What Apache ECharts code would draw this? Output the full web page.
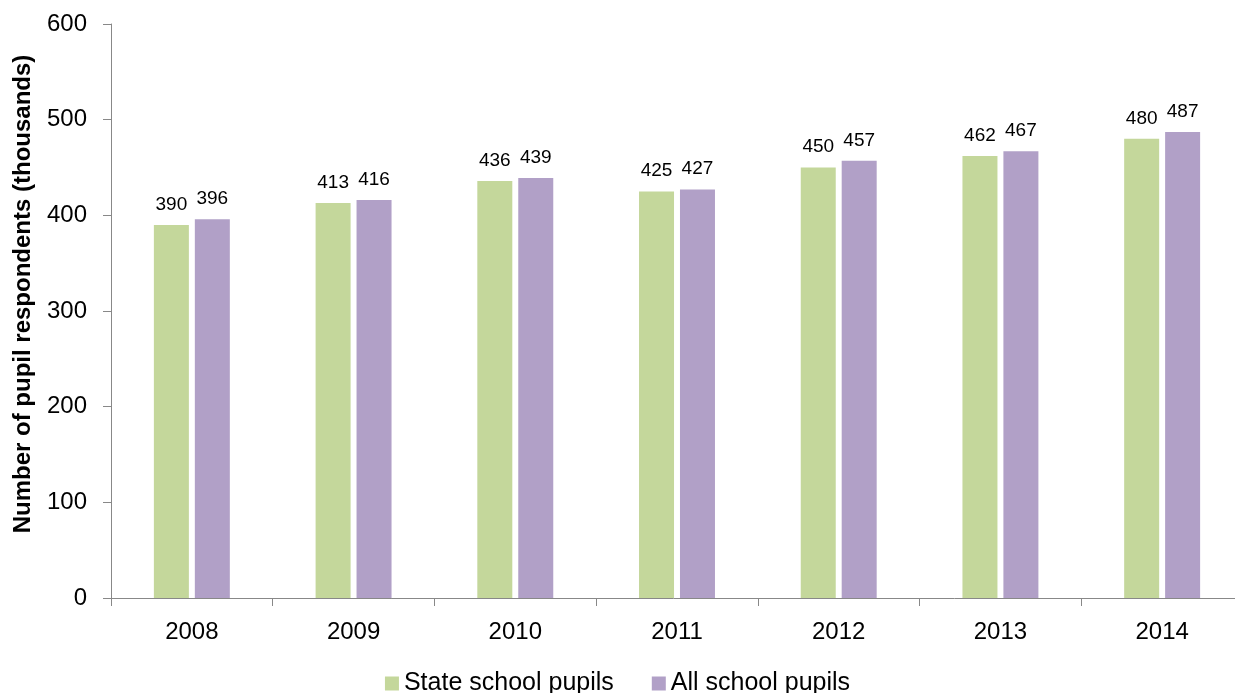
<!DOCTYPE html>
<html><head><meta charset="utf-8">
<script src="https://cdn.jsdelivr.net/npm/echarts@6/dist/echarts.min.js"></script>
<style>html,body{margin:0;padding:0;background:#fff}#c{width:1235px;height:693px}</style>
</head><body><div id="c"></div>
<script>
const categories = ['2008','2009','2010','2011','2012','2013','2014'];
const stateSchool = [390,413,436,425,450,462,480];
const allSchool = [396,416,439,427,457,467,487];
const yTicks = [0,100,200,300,400,500,600];

const chart = echarts.init(document.getElementById('c'));
const font = 'Liberation Sans, Arial, Helvetica, sans-serif';
chart.setOption({
  animation:false,
  textStyle:{fontFamily:font},
  grid:{left:111,width:1132,top:24,height:574,containLabel:false,outerBoundsMode:'none'},
  legend:{
    top:666,left:'center',itemWidth:14,itemHeight:14,itemGap:38,
    icon:'rect',
    textStyle:{fontSize:25,color:'#000',fontFamily:font},
    data:['State school pupils','All school pupils']
  },
  xAxis:{
    type:'category',data:categories,
    axisLine:{lineStyle:{color:'#888'}},
    axisTick:{show:true,length:8,lineStyle:{color:'#888'},alignWithLabel:false},
    axisLabel:{fontSize:24,color:'#000',margin:22,fontFamily:font}
  },
  yAxis:{
    type:'value',min:yTicks[0],max:yTicks[yTicks.length-1],interval:100,
    name:'Number of pupil respondents (thousands)',
    nameLocation:'middle',nameGap:76,
    nameTextStyle:{fontSize:24,fontWeight:'bold',color:'#000',fontFamily:font,padding:[0,0,0,34]},
    axisLine:{show:true,lineStyle:{color:'#888'}},
    axisTick:{show:true,length:8,lineStyle:{color:'#888'}},
    splitLine:{show:false},
    axisLabel:{fontSize:24,color:'#000',margin:24,fontFamily:font}
  },
  series:[
    {name:'State school pupils',type:'bar',data:stateSchool,barWidth:35,barGap:'17%',
     itemStyle:{color:'#c4d79b'},
     label:{show:true,position:'top',distance:11,fontSize:19,color:'#000',fontFamily:font}},
    {name:'All school pupils',type:'bar',data:allSchool,barWidth:35,barGap:'17%',
     itemStyle:{color:'#b1a0c7'},
     label:{show:true,position:'top',distance:11,fontSize:19,color:'#000',fontFamily:font}}
  ]
});
</script></body></html>
